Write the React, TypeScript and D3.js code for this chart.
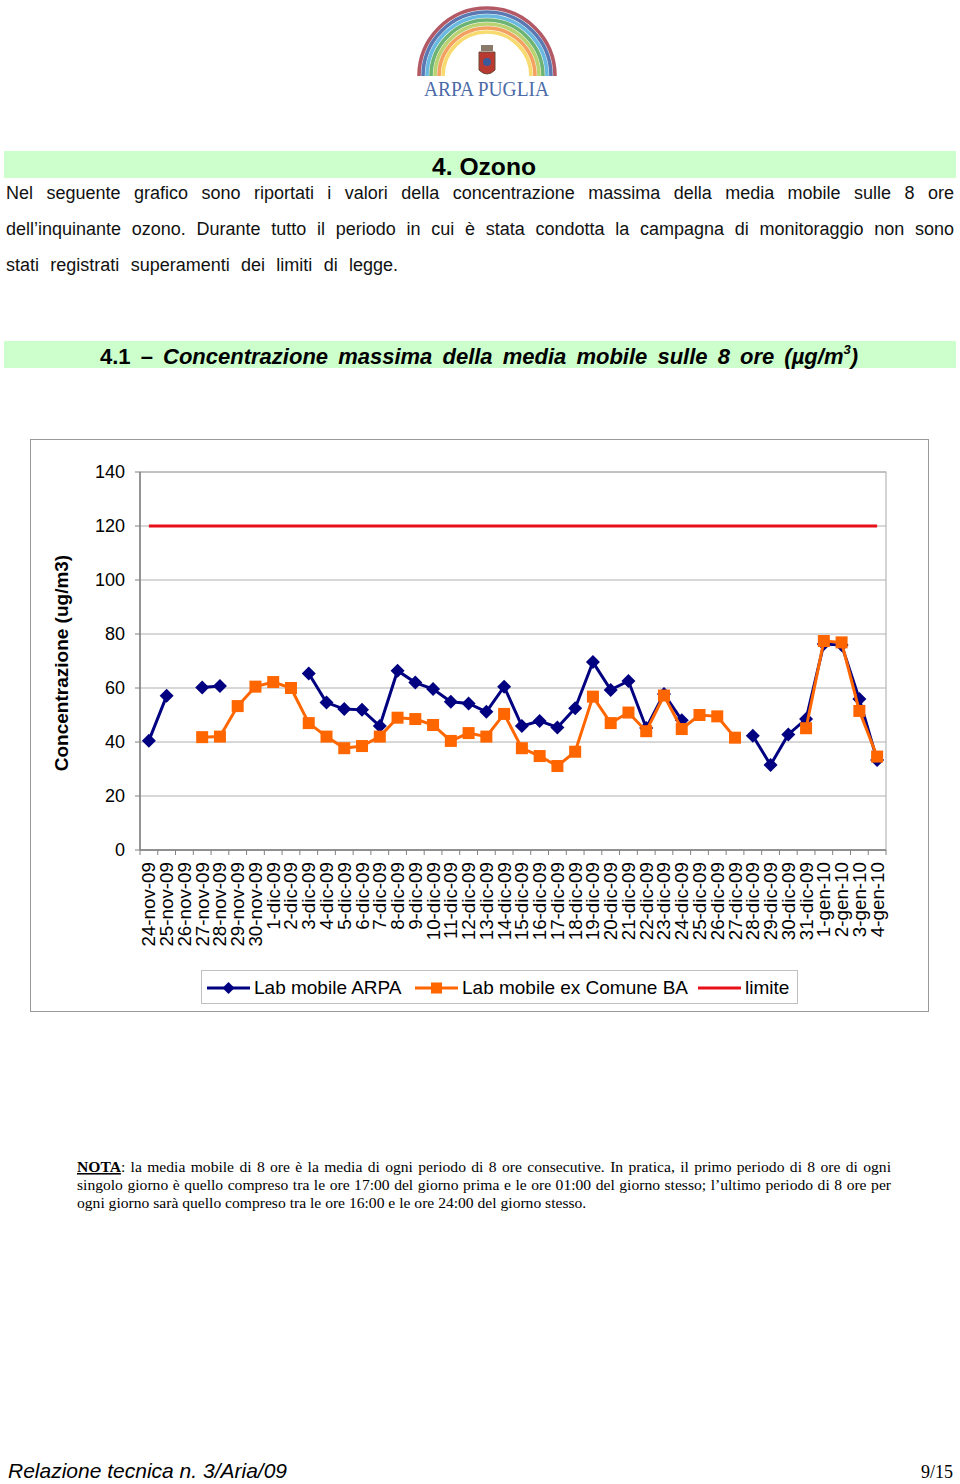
import { useEffect, useRef } from "react";
import * as d3 from "d3";

const days = [
  "24-nov-09", "25-nov-09", "26-nov-09", "27-nov-09", "28-nov-09", "29-nov-09", "30-nov-09",
  "1-dic-09", "2-dic-09", "3-dic-09", "4-dic-09", "5-dic-09", "6-dic-09", "7-dic-09",
  "8-dic-09", "9-dic-09", "10-dic-09", "11-dic-09", "12-dic-09", "13-dic-09", "14-dic-09",
  "15-dic-09", "16-dic-09", "17-dic-09", "18-dic-09", "19-dic-09", "20-dic-09", "21-dic-09",
  "22-dic-09", "23-dic-09", "24-dic-09", "25-dic-09", "26-dic-09", "27-dic-09", "28-dic-09",
  "29-dic-09", "30-dic-09", "31-dic-09", "1-gen-10", "2-gen-10", "3-gen-10", "4-gen-10",
];

const labArpa: (number | null)[] = [
  40.5, 57.1, null, 60.2, 60.7, null, null, null, null, 65.4, 54.6, 52.2, 51.9, 45.9,
  66.4, 62, 59.6, 54.9, 54.3, 51.2, 60.5, 45.9, 47.8, 45.4, 52.5, 69.6, 59.3, 62.6,
  45.2, 57.8, 48.1, null, null, null, 42.3, 31.5, 42.8, 48.5, 76.3, 75.9, 55.9, 33.3,
];

const labComuneBA: (number | null)[] = [
  null, null, null, 41.8, 42, 53.3, 60.5, 62.2, 60, 47, 42, 37.7, 38.5, 42,
  49, 48.5, 46.3, 40.4, 43.3, 42, 50.4, 37.7, 34.8, 31.1, 36.4, 56.8, 47, 50.9,
  44, 57.2, 44.8, 50, 49.5, 41.6, null, null, null, 45.1, 77.4, 76.9, 51.5, 34.6,
];

const limite: number[] = days.map(() => 120);

const yTicks = [0, 20, 40, 60, 80, 100, 120, 140];

const legendItems = ["Lab mobile ARPA", "Lab mobile ex Comune BA", "limite"];

const rainbow = ["#a0303f", "#3158a0", "#45a8d8", "#48a050", "#a8c850", "#f08a3a", "#f5d24c"];

const SANS = "'Liberation Sans', Arial, sans-serif";
const SERIF = "'Liberation Serif', 'Times New Roman', serif";

// stretch a text line to a given width by widening its word gaps
const fitWords = (t: d3.Selection<SVGTextElement, unknown, null, undefined>, target: number) => {
  const node = t.node();
  if (!node) return;
  const w = node.getComputedTextLength();
  const spaces = (node.textContent || "").split(" ").length - 1;
  if (spaces > 0) t.attr("word-spacing", (target - w) / spaces);
};

const App = () => {
  const ref = useRef<SVGSVGElement>(null);

  useEffect(() => {
    if (!ref.current) return;
    const svg = d3.select(ref.current);
    svg.selectAll("*").remove();

    // ---- logo ----
    const logo = svg.append("g");
    rainbow.forEach((c, i) => {
      const r = 68 - i * 4;
      logo
        .append("path")
        .attr("d", `M${487 - r},76 A${r},${r} 0 0 1 ${487 + r},76`)
        .attr("fill", "none")
        .attr("stroke", c)
        .attr("stroke-width", 3.6)
        .attr("opacity", 0.8);
    });
    logo.append("path")
      .attr("d", "M479,52 L495,52 L495,70 Q487,78 479,70 Z")
      .attr("fill", "#b83a30").attr("stroke", "#6a4a3a").attr("stroke-width", 1);
    logo.append("rect").attr("x", 481).attr("y", 45).attr("width", 12).attr("height", 6)
      .attr("fill", "#8a7a6a");
    logo.append("circle").attr("cx", 487).attr("cy", 62).attr("r", 4).attr("fill", "#3a5a9a");
    logo.append("text")
      .attr("x", 424).attr("y", 96)
      .attr("textLength", 125).attr("lengthAdjust", "spacingAndGlyphs")
      .attr("font-family", SERIF).attr("font-size", 21).attr("fill", "#4a6aa8")
      .text("ARPA PUGLIA");

    // ---- headings and body ----
    svg.append("rect").attr("x", 4).attr("y", 151).attr("width", 952).attr("height", 27)
      .attr("fill", "#ccffcc");
    svg.append("text").attr("x", 432).attr("y", 175)
      .attr("textLength", 104).attr("lengthAdjust", "spacingAndGlyphs")
      .attr("font-family", SANS).attr("font-weight", "bold").attr("font-size", 23)
      .text("4. Ozono");

    const body = [
      { t: "Nel seguente grafico sono riportati i valori della concentrazione massima della media mobile sulle 8 ore", w: 948, y: 199 },
      { t: "dell\u2019inquinante ozono. Durante tutto il periodo in cui è stata condotta la campagna di monitoraggio non sono", w: 948, y: 235 },
      { t: "stati registrati superamenti dei limiti di legge.", w: 392, y: 271 },
    ];
    body.forEach((l) => {
      const t = svg.append("text").attr("x", 6).attr("y", l.y)
        .attr("font-family", SANS).attr("font-size", 18).attr("fill", "#111")
        .text(l.t);
      fitWords(t, l.w);
    });

    svg.append("rect").attr("x", 4).attr("y", 341).attr("width", 952).attr("height", 27)
      .attr("fill", "#ccffcc");
    const h2 = svg.append("text").attr("x", 100).attr("y", 364)
      .attr("font-family", SANS).attr("font-weight", "bold").attr("font-size", 22);
    h2.append("tspan").text("4.1 \u2013 ");
    h2.append("tspan").attr("font-style", "italic").text("Concentrazione massima della media mobile sulle 8 ore  (\u00b5g/m");
    h2.append("tspan").attr("font-style", "italic").attr("font-size", 13).attr("dy", -10).text("3");
    h2.append("tspan").attr("font-style", "italic").attr("dy", 10).text(")");
    fitWords(h2, 762);

    // ---- chart ----
    svg.append("rect").attr("x", 30.5).attr("y", 439.5).attr("width", 898).attr("height", 572)
      .attr("fill", "#fff").attr("stroke", "#999").attr("stroke-width", 1);

    const left = 140, right = 886, top = 472, bottom = 850;
    const x = d3.scaleBand<string>().domain(days).range([left, right]);
    const cx = (d: string) => (x(d) ?? 0) + x.bandwidth() / 2;
    const y = d3.scaleLinear().domain([0, 140]).range([bottom, top]);

    const g = svg.append("g");
    g.append("rect").attr("x", left).attr("y", top).attr("width", right - left).attr("height", bottom - top)
      .attr("fill", "none").attr("stroke", "#a8a8a8");

    g.selectAll(".grid").data(yTicks).enter().append("line")
      .attr("x1", left).attr("x2", right)
      .attr("y1", (d) => y(d)).attr("y2", (d) => y(d))
      .attr("stroke", "#b0b0b0").attr("stroke-width", 1);

    g.append("line").attr("x1", left).attr("x2", left).attr("y1", top).attr("y2", bottom)
      .attr("stroke", "#808080").attr("stroke-width", 1.5);
    g.append("line").attr("x1", left).attr("x2", right).attr("y1", bottom).attr("y2", bottom)
      .attr("stroke", "#808080").attr("stroke-width", 1.5);

    g.selectAll(".ytick").data(yTicks).enter().append("line")
      .attr("x1", left - 5).attr("x2", left)
      .attr("y1", (d) => y(d)).attr("y2", (d) => y(d))
      .attr("stroke", "#808080");
    g.selectAll(".ylab").data(yTicks).enter().append("text")
      .attr("x", 125).attr("y", (d) => y(d) + 6)
      .attr("text-anchor", "end").attr("font-family", SANS).attr("font-size", 18)
      .text((d) => d);

    g.selectAll(".xtick").data(d3.range(days.length + 1)).enter().append("line")
      .attr("x1", (i) => left + i * x.step()).attr("x2", (i) => left + i * x.step())
      .attr("y1", bottom).attr("y2", bottom + 5)
      .attr("stroke", "#808080");
    g.selectAll(".xlab").data(days).enter().append("text")
      .attr("transform", (d) => `translate(${cx(d) + 6.5},${bottom + 12}) rotate(-90)`)
      .attr("text-anchor", "end").attr("font-family", SANS).attr("font-size", 18.8)
      .text((d) => d);

    g.append("text")
      .attr("transform", `translate(68,${(top + bottom) / 2 + 2}) rotate(-90)`)
      .attr("text-anchor", "middle").attr("font-family", SANS).attr("font-weight", "bold")
      .attr("font-size", 19).text("Concentrazione (ug/m3)");

    const line = d3.line<number | null>()
      .defined((d) => d !== null)
      .x((_, i) => cx(days[i]))
      .y((d) => y(d as number));

    // ARPA
    g.append("path").datum(labArpa).attr("d", line)
      .attr("fill", "none").attr("stroke", "#000080").attr("stroke-width", 3);
    g.selectAll(".arpa").data(labArpa.map((v, i) => ({ v, d: days[i] })).filter((p) => p.v !== null))
      .enter().append("path")
      .attr("d", "M0,-7 L7,0 L0,7 L-7,0 Z")
      .attr("transform", (p) => `translate(${cx(p.d)},${y(p.v as number)})`)
      .attr("fill", "#000080");

    // ex Comune BA
    g.append("path").datum(labComuneBA).attr("d", line)
      .attr("fill", "none").attr("stroke", "#ff6600").attr("stroke-width", 3);
    g.selectAll(".ba").data(labComuneBA.map((v, i) => ({ v, d: days[i] })).filter((p) => p.v !== null))
      .enter().append("rect")
      .attr("x", (p) => cx(p.d) - 6).attr("y", (p) => y(p.v as number) - 6)
      .attr("width", 12).attr("height", 12)
      .attr("fill", "#ff6600");

    // limite
    g.append("path").datum(limite).attr("d", line)
      .attr("fill", "none").attr("stroke", "#e8111a").attr("stroke-width", 3);

    // legend
    const lg = svg.append("g");
    lg.append("rect").attr("x", 201.5).attr("y", 970.5).attr("width", 596).attr("height", 33)
      .attr("fill", "#fff").attr("stroke", "#c0c0c0");
    const ly = 988;
    const lx = [207, 415, 698];
    const colors = ["#000080", "#ff6600", "#e8111a"];
    legendItems.forEach((name, i) => {
      lg.append("line").attr("x1", lx[i]).attr("x2", lx[i] + 43).attr("y1", ly).attr("y2", ly)
        .attr("stroke", colors[i]).attr("stroke-width", 3);
      if (i === 0) {
        lg.append("path").attr("d", "M0,-6 L6,0 L0,6 L-6,0 Z")
          .attr("transform", `translate(${lx[i] + 21.5},${ly})`).attr("fill", colors[i]);
      } else if (i === 1) {
        lg.append("rect").attr("x", lx[i] + 16).attr("y", ly - 5.5).attr("width", 11).attr("height", 11)
          .attr("fill", colors[i]);
      }
      lg.append("text").attr("x", lx[i] + 47).attr("y", ly + 6)
        .attr("font-family", SANS).attr("font-size", 19).text(name);
    });

    // ---- note ----
    const noteLines = [
      "la media mobile di 8 ore è la media di ogni periodo di 8 ore consecutive. In pratica, il primo periodo di 8 ore di ogni",
      "singolo giorno è quello compreso tra le ore 17:00 del giorno prima e le ore 01:00 del giorno stesso; l\u2019ultimo periodo di 8 ore per",
      "ogni giorno sarà quello compreso tra le ore 16:00 e le ore 24:00 del giorno stesso.",
    ];
    const n1 = svg.append("text").attr("x", 77).attr("y", 1172)
      .attr("font-family", SERIF).attr("font-size", 15.6);
    n1.append("tspan").attr("font-weight", "bold").attr("text-decoration", "underline").text("NOTA");
    n1.append("tspan").text(": " + noteLines[0]);
    fitWords(n1, 814);
    noteLines.slice(1).forEach((l, i) => {
      const t = svg.append("text").attr("x", 77).attr("y", 1190 + i * 18)
        .attr("font-family", SERIF).attr("font-size", 15.6).text(l);
      if (i === 0) fitWords(t, 814);
    });

    // ---- footer ----
    svg.append("text").attr("x", 8).attr("y", 1478)
      .attr("font-family", SANS).attr("font-style", "italic").attr("font-size", 21)
      .text("Relazione tecnica n. 3/Aria/09");
    svg.append("text").attr("x", 953).attr("y", 1478).attr("text-anchor", "end")
      .attr("font-family", SERIF).attr("font-size", 18)
      .text("9/15");

    return () => {
      svg.selectAll("*").remove();
    };
  }, []);

  return (
    <svg
      ref={ref}
      width={960}
      height={1484}
      style={{ position: "absolute", left: 0, top: 0, background: "#fff" }}
    />
  );
};

export default App;
